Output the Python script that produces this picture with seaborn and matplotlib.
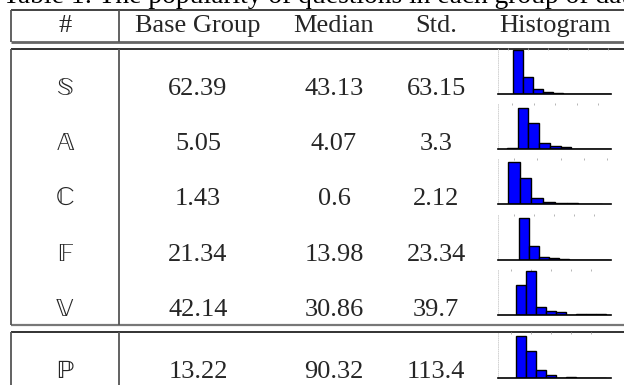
import numpy as np
import pandas as pd
import matplotlib
matplotlib.use("Agg")
import matplotlib.pyplot as plt
import seaborn as sns

sns.set_theme(style="white")
plt.rcParams["font.family"] = ["Liberation Serif", "DejaVu Serif"]
plt.rcParams["mathtext.fontset"] = "stix"
plt.rcParams["mathtext.default"] = "rm"

# ---- table content -------------------------------------------------------
title = "Table 1: The popularity of questions in each group of data"
headers = ["#", "Base Group", "Median", "Std.", "Histogram"]
groups = [r"$\mathbb{S}$", r"$\mathbb{A}$", r"$\mathbb{C}$",
          r"$\mathbb{F}$", r"$\mathbb{V}$", r"$\mathbb{P}$"]
base_group = ["62.39", "5.05", "1.43", "21.34", "42.14", "13.22"]
median = ["43.13", "4.07", "0.6", "13.98", "30.86", "90.32"]
std = ["63.15", "3.3", "2.12", "23.34", "39.7", "113.4"]

# relative frequency of each histogram bin, per group
hist_S = [44, 17.3, 4.7, 1.7, 1.0, 0.5, 0.4, 0.3, 0.4, 0.3]
hist_A = [1.3, 41, 25.7, 6.3, 2.7, 1.7, 0.5, 0.3, 0.3, 0.3]
hist_C = [41.7, 26, 6, 1.7, 1.0, 1.0, 0.3, 0.3]
hist_F = [41.7, 14.3, 3.3, 2.3, 1.0, 0.3, 0.3, 0.3, 0.3]
hist_V = [30, 44, 8.3, 4.3, 3.3, 0.3, 1, 1, 1]
hist_P = [41.7, 26.7, 7.7, 2.7, 0.3, 1.3, 0.5, 0.3, 0.5]
hists = [hist_S, hist_A, hist_C, hist_F, hist_V, hist_P]

# ---- layout (pixels) ------------------------------------------------------
W, H = 624, 385
row_base = [95, 150, 205, 261, 316, 378]
col_x = [65, 198, 334, 436, 555]
hist_x0, hist_x1, hist_h = 498, 611, 46
hist_base = [94, 149, 204, 260, 315, 378]
bin_start = [513, 507, 508, 519, 516, 516]
bin_width = [10, 10.7, 11.7, 10, 10, 10]
FS = 19

fig = plt.figure(figsize=(W / 100, H / 100), dpi=100)
ax = fig.add_axes([0, 0, 1, 1])
ax.set_xlim(0, W)
ax.set_ylim(H, 0)
ax.axis("off")

# caption, running off the top edge of the page
ax.text(3, 3, title, fontsize=19.8, ha="left", va="baseline", color="black")

# frame lines
def hline(y, x0=11, x1=W, c="#333333", lw=1.3):
    ax.plot([x0, x1], [y, y], color=c, lw=lw, solid_capstyle="butt")

def vline(x, y0, y1, c="#555555", lw=1.3):
    ax.plot([x, x], [y0, y1], color=c, lw=lw, solid_capstyle="butt")

hline(10, c="#333333")
hline(42, c="#666666", lw=2.0)
vline(11, 10, 42)
vline(119, 10, 42)
hline(49, c="#222222")
hline(325, c="#777777", lw=1.6)
vline(11, 49, 325)
vline(119, 49, 325)
hline(332, c="#222222")
vline(11, 332, H)
vline(119, 332, H)

# header
for x, h in zip(col_x, headers):
    ax.text(x, 32, h, fontsize=FS, ha="center", va="baseline")

# rows
for i in range(len(groups)):
    yb = row_base[i]
    ax.text(col_x[0], yb, groups[i], fontsize=FS, ha="center", va="baseline")
    ax.text(col_x[1], yb, base_group[i], fontsize=FS, ha="center", va="baseline")
    ax.text(col_x[2], yb, median[i], fontsize=FS, ha="center", va="baseline")
    ax.text(col_x[3], yb, std[i], fontsize=FS, ha="center", va="baseline")

    hb = hist_base[i]
    hax = fig.add_axes([hist_x0 / W, 1 - hb / H,
                        (hist_x1 - hist_x0) / W, hist_h / H])
    df = pd.DataFrame({"bin": np.arange(len(hists[i])), "freq": hists[i]})
    sns.histplot(data=df, x="bin", weights="freq", discrete=True,
                 color="#0000ff", edgecolor="black", linewidth=1.0,
                 alpha=1.0, ax=hax)
    s, bw = bin_start[i], bin_width[i]
    hax.set_xlim(-0.5 + (hist_x0 - s) / bw, -0.5 + (hist_x1 - s) / bw)
    hax.set_ylim(0, hist_h)
    hax.set_xlabel("")
    hax.set_ylabel("")
    hax.set_facecolor("none")
    for sp in ("top", "right"):
        hax.spines[sp].set_visible(False)
    hax.spines["bottom"].set_color("black")
    hax.spines["bottom"].set_linewidth(1.2)
    hax.spines["left"].set_color("#cccccc")
    hax.spines["left"].set_linestyle(":")
    hax.spines["left"].set_linewidth(0.6)
    lo, hi = hax.get_xlim()
    hax.set_xticks(np.arange(np.ceil(lo) + 1, hi, 2))
    hax.set_yticks([])
    hax.tick_params(axis="x", top=True, bottom=False, labeltop=False,
                    labelbottom=False, direction="in", length=1.5,
                    width=0.6, color="#aaaaaa")

fig.savefig("out.png", dpi=100)
